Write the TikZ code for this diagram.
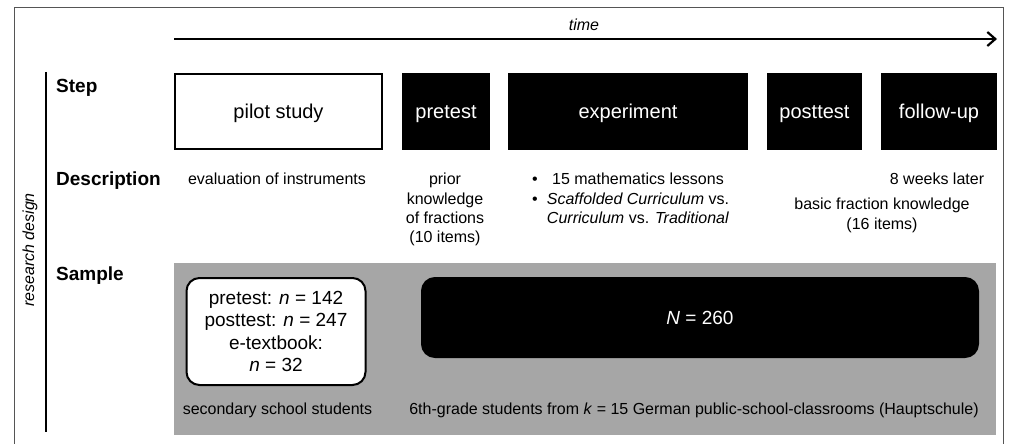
\documentclass[tikz,border=0pt]{standalone}
\usepackage{fontspec}
\setmainfont{Liberation Sans}
\usepackage{xcolor}
\usetikzlibrary{arrows.meta, positioning}
\definecolor{sampgray}{HTML}{A6A6A6}
\definecolor{framegray}{HTML}{555555}

\begin{document}
\begin{tikzpicture}[
    x=1pt, y=-1pt,
    stepbox/.style={rectangle, draw=black, line width=2pt, fill=#1, minimum height=75pt, text height=14pt, text depth=0pt, font=\fontsize{20}{24}\selectfont, inner sep=0pt},
    rowlabel/.style={anchor=west, font=\fontsize{19}{23}\selectfont\bfseries, inner sep=0pt},
    desc/.style={align=center, anchor=north, font=\fontsize{16}{19.4}\selectfont, inner sep=0pt},
    bullet/.style={anchor=base, font=\fontsize{16}{19.4}\selectfont, inner sep=0pt},
    samplebox/.style={rectangle, rounded corners=13pt, draw=black, line width=2pt, align=center, font=\fontsize{19}{22.6}\selectfont, inner sep=0pt},
    timearrow/.style={-{Straight Barb[length=8pt, width=14pt, line width=2.2pt]}, line width=2.5pt}
]
\useasboundingbox (0,0) rectangle (1009,444);

% Frame and time axis
\draw[framegray, line width=1pt] (14,444) -- (14,8) -- (1003,8) -- (1003,444);
\coordinate (t0) at (174,39);
\coordinate (t1) at (997,39);
\draw[timearrow] (t0) -- (t1);
\node[font=\fontsize{16}{19}\selectfont\itshape] (time) at (584,25) {time};

% Research design bracket
\draw[line width=2.5pt] (46,72) -- (46,432);
\node[rotate=90, font=\fontsize{16}{19}\selectfont\itshape] (design) at (30,250) {research design};
\node[rowlabel] (lstep) at (56,88) {Step};
\node[rowlabel] (ldesc) at (56,181) {Description};
\node[rowlabel] (lsamp) at (56,276) {Sample};

% Steps
\node[stepbox=white, minimum width=207pt] (pilot) at (278.5,111.5) {pilot study};
\node[stepbox=black, text=white, minimum width=86pt] (pre) at (446,111.5) {pretest};
\node[stepbox=black, text=white, minimum width=238pt] (exp) at (628,111.5) {experiment};
\node[stepbox=black, text=white, minimum width=93pt] (post) at (814.5,111.5) {posttest};
\node[stepbox=black, text=white, minimum width=114pt] (follow) at (939,111.5) {follow-up};

% Descriptions
\node[desc] (dpilot) at (277,173) {evaluation of instruments};
\node[desc] (dpre) at (445,173) {prior\\knowledge\\of fractions\\(10 items)};
\node[desc] (dexp) at (638,173) {15 mathematics lessons\\\textit{Scaffolded Curriculum} vs.\\\textit{Curriculum} vs. \textit{Traditional}};
\node[bullet] (b1) at (535,184.6) {\textbullet};
\node[bullet] (b2) at (535,204) {\textbullet};
\node[desc] (dfollow) at (937,173) {8 weeks later};
\node[desc] (dpost) at (882,198) {basic fraction knowledge\\(16 items)};

% Sample
\node[rectangle, fill=sampgray, minimum width=822pt, minimum height=172pt, inner sep=0pt] (samp) at (585,349) {};
\node[samplebox, fill=white, minimum width=179pt, minimum height=107pt] (spilot) at (276,331.5) {pretest: \textit{n} = 142\\posttest: \textit{n} = 247\\e-textbook:\\\textit{n} = 32};
\node[samplebox, fill=black, text=white, minimum width=556pt, minimum height=79pt] (smain) at (700,317.5) {\textit{N} = 260};
\node[desc] (cpilot) at (277.5,403) {secondary school students};
\node[desc] (cmain) at (694,403) {6th-grade students from \textit{k} = 15 German public-school-classrooms (Hauptschule)};

\end{tikzpicture}
\end{document}
